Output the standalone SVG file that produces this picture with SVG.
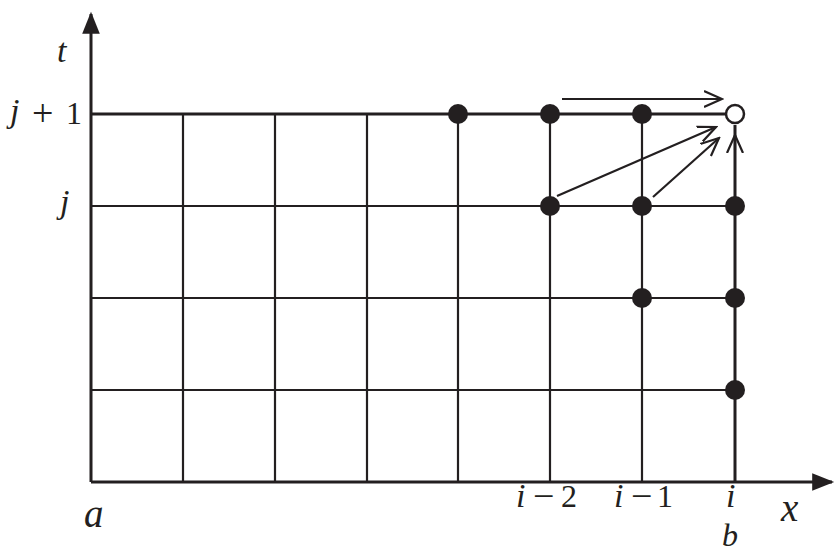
<svg xmlns="http://www.w3.org/2000/svg" width="839" height="554" viewBox="0 0 839 554">
<style>
.g{stroke:#231f20;stroke-width:2.2;fill:none}
.ax{stroke:#231f20;stroke-width:3;fill:none}
.dot{fill:#231f20}
.lab{font-family:"Liberation Serif","Times New Roman",serif;font-style:italic;font-size:34px;fill:#231f20}
.big{font-size:39px}
.num{font-family:"Liberation Serif","Times New Roman",serif;font-style:normal;font-size:32px;fill:#231f20}
.op{font-family:"Liberation Serif","Times New Roman",serif;font-style:normal;font-size:38px;fill:#231f20}
.ar{stroke:#231f20;stroke-width:2.2;fill:none}
</style>
<defs>
<marker id="v" viewBox="0 0 20 20" refX="18" refY="10" markerWidth="20" markerHeight="20" markerUnits="userSpaceOnUse" orient="auto">
<path d="M0,2 L18,10 L0,18" fill="none" stroke="#231f20" stroke-width="2.2"/>
</marker>
<marker id="tri" viewBox="0 0 20 20" refX="18" refY="10" markerWidth="24" markerHeight="22" markerUnits="userSpaceOnUse" orient="auto">
<path d="M0,2 L20,10 L0,18 Z" fill="#231f20"/>
</marker>
</defs>
<g id="grid">
<path class="g" d="M91,206H735M91,298H735M91,390H735"/>
<path class="ax" d="M91,114H735"/>
<path class="g" d="M183,114V482M275,114V482M367,114V482M458,114V482M550,114V482M642,114V482"/>
<path class="ax" d="M735,125V482"/>
</g>
<g id="axes">
<line class="ax" x1="91" y1="482" x2="91" y2="14" marker-end="url(#tri)"/>
<line class="ax" x1="91" y1="482" x2="832" y2="482" marker-end="url(#tri)"/>
</g>
<g id="nodes">
<circle class="dot" cx="458" cy="114" r="10"/>
<circle class="dot" cx="550" cy="114" r="10"/>
<circle class="dot" cx="642" cy="114" r="10"/>
<circle cx="735" cy="114" r="9" fill="#fff" stroke="#231f20" stroke-width="2.5"/>
<circle class="dot" cx="550" cy="206" r="10"/>
<circle class="dot" cx="642" cy="206" r="10"/>
<circle class="dot" cx="735" cy="206" r="10"/>
<circle class="dot" cx="642" cy="298" r="10"/>
<circle class="dot" cx="735" cy="298" r="10"/>
<circle class="dot" cx="735" cy="390" r="10"/>
</g>
<g id="connectors">
<line class="ar" x1="562" y1="99" x2="722" y2="99" marker-end="url(#v)"/>
<line class="ar" x1="557" y1="196" x2="716" y2="127" marker-end="url(#v)"/>
<line class="ar" x1="653" y1="197" x2="719" y2="138" marker-end="url(#v)"/>
<line class="ar" x1="735" y1="150" x2="735" y2="135" marker-end="url(#v)"/>
</g>
<g id="labels">
<text class="lab" x="57" y="62">t</text>
<text class="lab" x="10" y="122">j</text>
<text class="op" x="32" y="126">+</text>
<text class="num" x="66" y="124">1</text>
<text class="lab" x="60" y="213">j</text>
<text class="lab big" x="84" y="527">a</text>
<text class="lab" x="516" y="507">i</text>
<text class="op" x="533" y="509">−</text>
<text class="num" x="561" y="507">2</text>
<text class="lab" x="614" y="507">i</text>
<text class="op" x="631" y="509">−</text>
<text class="num" x="657" y="507">1</text>
<text class="lab" x="726" y="507">i</text>
<text class="lab big" x="781" y="521">x</text>
<text class="lab" x="722" y="546" style="font-size:32px">b</text>
</g>
</svg>
